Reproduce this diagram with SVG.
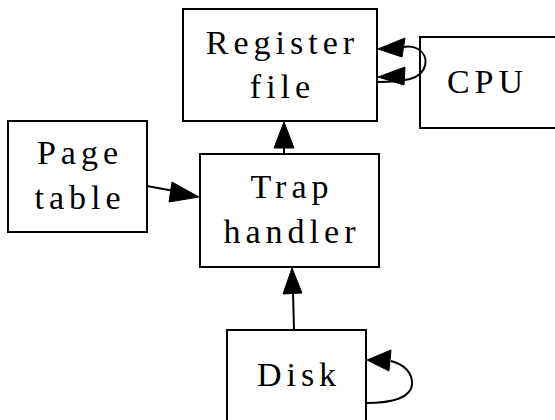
<svg xmlns="http://www.w3.org/2000/svg" width="555" height="420" viewBox="0 0 555 420">
<style>
.box{fill:#fff;stroke:#000;stroke-width:2}
.lbl{font-family:"Liberation Serif","Times New Roman",serif;font-size:34px;letter-spacing:5px;text-anchor:middle;fill:#000}
.edge{fill:none;stroke:#000;stroke-width:2}
.head{fill:#000;stroke:#000;stroke-width:1}
</style>
<rect width="555" height="420" fill="#fff"/>
<g id="register">
<rect class="box" x="183" y="9" width="194" height="112"/>
<text class="lbl" x="282.5" y="54">Register</text>
<text class="lbl" x="282.5" y="98">file</text>
</g>
<g id="cpu">
<rect class="box" x="420" y="37" width="145" height="91"/>
<text class="lbl" x="487.5" y="93">CPU</text>
</g>
<g id="pagetable">
<rect class="box" x="8" y="121" width="139" height="111"/>
<text class="lbl" x="80" y="164">Page</text>
<text class="lbl" x="80" y="209">table</text>
</g>
<g id="trap">
<rect class="box" x="200" y="154" width="179" height="113"/>
<text class="lbl" x="292" y="198">Trap</text>
<text class="lbl" x="292" y="243">handler</text>
</g>
<g id="disk">
<rect class="box" x="227" y="330" width="139" height="100"/>
<text class="lbl" x="299" y="386">Disk</text>
</g>
<g id="connectors">
<path class="edge" d="M284,154 L284,146"/>
<polygon class="head" points="284,122 294,148 274,148"/>
<path class="edge" d="M294,330 L293,292"/>
<polygon class="head" points="292,268 302,293 283,294"/>
<path class="edge" d="M147,186 L174,191"/>
<polygon class="head" points="199,197 172,182 169,202"/>
<path class="edge" d="M378,82 C392,82 402,81 410,79 C428,74 430,56 418,49 C413,46 408,46 403,47"/>
<polygon class="head" points="378,49 405,38 402,57"/>
<polygon class="head" points="378,77 405,67 404,85"/>
<path class="edge" d="M366,403 C392,403 410,398 412,385 C413,372 403,364 391,361"/>
<polygon class="head" points="367,360 391,350 389,371"/>
</g>
</svg>
